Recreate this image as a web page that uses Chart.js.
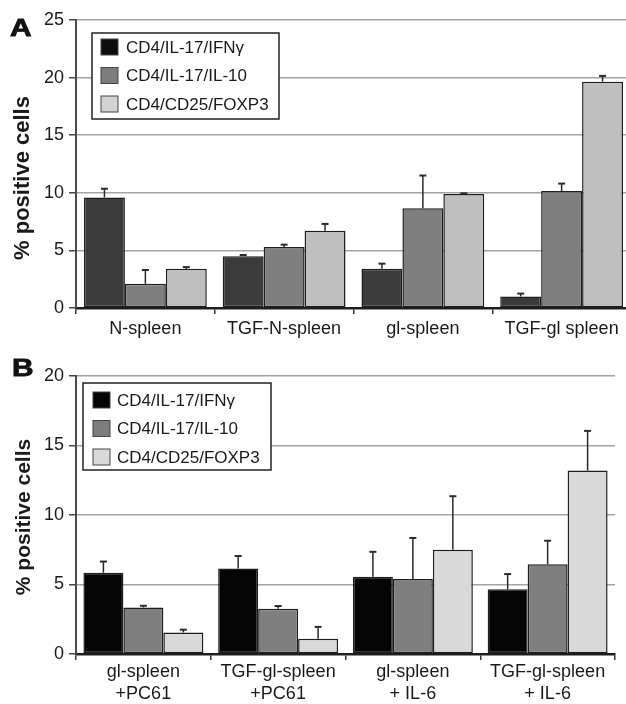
<!DOCTYPE html>
<html>
<head>
<meta charset="utf-8">
<script src="https://cdn.jsdelivr.net/npm/chart.js@4.4.1/dist/chart.umd.min.js"></script>
<style>
  html, body { margin: 0; padding: 0; background: #fff; overflow: hidden; width: 626px; height: 704px; }
  #wrap { position: relative; width: 626px; height: 704px; overflow: hidden; }
  canvas { position: absolute; left: 0; }
  #cA { top: 0; }
  #cB { top: 340px; }
  .panel { position: absolute; font-family: "Liberation Sans", Arial, sans-serif; font-weight: bold; font-size: 23px; line-height: 23px; color: #111; transform: scaleX(1.3); transform-origin: left top; -webkit-text-stroke: 0.8px #111; }
  .ytitle { position: absolute; left: 22px; font-family: "Liberation Sans", Arial, sans-serif; font-weight: bold; color: #1a1a1a; white-space: nowrap; transform: translate(-50%, -50%) rotate(-90deg); line-height: 1; }
</style>
</head>
<body>
<div id="wrap">
  <canvas id="cA" width="640" height="340"></canvas>
  <canvas id="cB" width="626" height="364"></canvas>
  <div class="panel" style="left:10px; top:17px;">A</div>
  <div class="panel" style="left:12px; top:357px;">B</div>
  <div class="ytitle" style="top:178px; font-size:22px;">% positive cells</div>
  <div class="ytitle" style="top:517px; font-size:21px;">% positive cells</div>
</div>
<script>
// ---------- data ----------
const seriesNames = ['CD4/IL-17/IFNγ', 'CD4/IL-17/IL-10', 'CD4/CD25/FOXP3'];

// Panel A
const aCategories = ['N-spleen', 'TGF-N-spleen', 'gl-spleen', 'TGF-gl spleen'];
const aIFNg     = [9.6, 4.5, 3.4, 1.0];
const aIFNgErr  = [0.75, 0.1, 0.45, 0.25];
const aIL10     = [2.1, 5.3, 8.65, 10.15];
const aIL10Err  = [1.2, 0.2, 2.85, 0.65];
const aFOXP3    = [3.4, 6.7, 9.9, 19.65];
const aFOXP3Err = [0.15, 0.6, 0.05, 0.5];
const aTicks    = [0, 5, 10, 15, 20, 25];

// Panel B
const bCategories = [['gl-spleen', '+PC61'], ['TGF-gl-spleen', '+PC61'], ['gl-spleen', '+ IL-6'], ['TGF-gl-spleen', '+ IL-6']];
const bIFNg     = [5.85, 6.15, 5.55, 4.65];
const bIFNgErr  = [0.8, 0.9, 1.8, 1.1];
const bIL10     = [3.35, 3.25, 5.4, 6.45];
const bIL10Err  = [0.12, 0.2, 2.95, 1.7];
const bFOXP3    = [1.55, 1.1, 7.5, 13.2];
const bFOXP3Err = [0.2, 0.85, 3.85, 2.85];
const bTicks    = [0, 5, 10, 15, 20];

// ---------- plugins ----------
const FONT = '"Liberation Sans", Arial, sans-serif';

const errorBars = {
  id: 'errorBars',
  afterDatasetsDraw(chart) {
    const ctx = chart.ctx;
    const y = chart.scales.y;
    ctx.save();
    ctx.strokeStyle = '#2a2a2a';
    chart.data.datasets.forEach((ds, i) => {
      const meta = chart.getDatasetMeta(i);
      meta.data.forEach((bar, j) => {
        const v = ds.data[j], e = ds.errors[j];
        const yTop = y.getPixelForValue(v + e);
        ctx.lineWidth = 1.5;
        ctx.beginPath();
        ctx.moveTo(bar.x, bar.y);
        ctx.lineTo(bar.x, yTop);
        ctx.stroke();
        ctx.lineWidth = 2;
        ctx.beginPath();
        ctx.moveTo(bar.x - 3.5, yTop);
        ctx.lineTo(bar.x + 3.5, yTop);
        ctx.stroke();
      });
    });
    ctx.restore();
  }
};

const boxLegend = {
  id: 'boxLegend',
  afterDraw(chart, args, opts) {
    const ctx = chart.ctx;
    const ca = chart.chartArea;
    const x0 = ca.left + opts.dx, y0 = ca.top + opts.dy;
    ctx.save();
    ctx.fillStyle = '#fff';
    ctx.fillRect(x0, y0, opts.w, opts.h);
    ctx.strokeStyle = '#222';
    ctx.lineWidth = 1.5;
    ctx.strokeRect(x0, y0, opts.w, opts.h);
    ctx.font = '17px ' + FONT;
    ctx.textBaseline = 'middle';
    ctx.textAlign = 'left';
    chart.data.datasets.forEach((ds, i) => {
      const cy = y0 + opts.firstRow + i * opts.rowGap;
      ctx.fillStyle = ds.legendColor || ds.backgroundColor;
      ctx.fillRect(x0 + opts.swX, cy - 8, 17, 16);
      ctx.strokeStyle = '#444';
      ctx.lineWidth = 1;
      ctx.strokeRect(x0 + opts.swX, cy - 8, 17, 16);
      ctx.fillStyle = '#1a1a1a';
      ctx.fillText(ds.label, x0 + opts.txX, cy + 1);
    });
    ctx.restore();
  }
};

function makeChart(id, cats, vals, errs, colors, legendColors, ticks, o) {
  const datasets = vals.map((v, i) => ({
    label: seriesNames[i],
    data: v,
    errors: errs[i],
    backgroundColor: colors[i],
    legendColor: legendColors[i],
    borderColor: '#1e1e1e',
    borderWidth: 1.5,
    borderSkipped: false,
    categoryPercentage: o.catPct,
    barPercentage: 1.0
  }));
  return new Chart(document.getElementById(id), {
    type: 'bar',
    data: { labels: cats, datasets },
    plugins: [errorBars, boxLegend],
    options: {
      responsive: false,
      animation: false,
      devicePixelRatio: 1,
      layout: { padding: { left: 0, right: o.padRight, top: o.padTop, bottom: 0 } },
      plugins: {
        legend: { display: false },
        tooltip: { enabled: false },
        boxLegend: o.legend
      },
      scales: {
        x: {
          offset: true,
          grid: { display: true, drawOnChartArea: false, offset: true, color: '#333', tickLength: 6, lineWidth: 1.5 },
          border: { display: true, color: '#1e1e1e', width: 2.5 },
          ticks: { color: '#1a1a1a', font: { family: FONT, size: 18, lineHeight: 1.17 }, padding: o.xPad, maxRotation: 0, autoSkip: false },
          afterFit(s) { s.height = o.xHeight; }
        },
        y: {
          min: ticks[0],
          max: ticks[ticks.length - 1],
          afterBuildTicks(s) { s.ticks = ticks.map(v => ({ value: v })); },
          grid: { color: '#a3a3a3', lineWidth: 1.5, tickLength: 7, tickColor: '#444' },
          border: { display: true, color: '#4a4a4a', width: 2 },
          ticks: { color: '#1a1a1a', font: { family: FONT, size: 18 }, padding: 5 },
          afterFit(s) { s.width = 76; }
        }
      }
    }
  });
}

makeChart('cA', aCategories,
  [aIFNg, aIL10, aFOXP3], [aIFNgErr, aIL10Err, aFOXP3Err],
  ['#3b3b3b', '#7f7f7f', '#bfbfbf'], ['#0d0d0d', '#7d7d7d', '#d2d2d2'], aTicks,
  { catPct: 0.885, padRight: 9, padTop: 20, xHeight: 32, xPad: 5,
    legend: { dx: 16, dy: 13, w: 187, h: 86, swX: 9, txX: 34, firstRow: 14, rowGap: 28.5 } });

makeChart('cB', bCategories,
  [bIFNg, bIL10, bFOXP3], [bIFNgErr, bIL10Err, bFOXP3Err],
  ['#050505', '#7f7f7f', '#d9d9d9'], ['#050505', '#7d7d7d', '#d9d9d9'], bTicks,
  { catPct: 0.89, padRight: 11, padTop: 36, xHeight: 50, xPad: 2,
    legend: { dx: 7, dy: 7, w: 188, h: 87, swX: 10, txX: 34, firstRow: 17, rowGap: 28.5 } });
</script>
</body>
</html>
